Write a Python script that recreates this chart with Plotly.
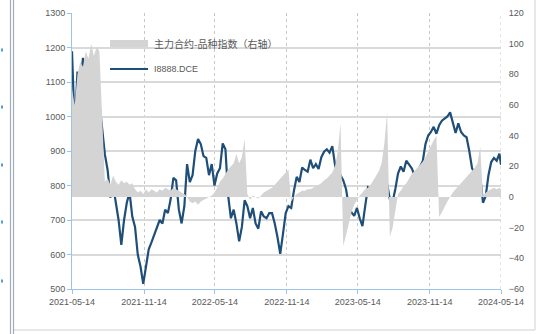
import datetime as dt
import plotly.graph_objects as go

# ---------------- data ----------------
start = dt.date(2021, 5, 14)
dates = [start + dt.timedelta(days=7 * i) for i in range(157)] + [dt.date(2024, 5, 14)]

price = [
    1189, 960, 1130, 1080, 1170, 1120, 1100, 1140, 1110, 1160,
    1040, 965, 890, 845, 765, 800, 745, 700, 628, 700,
    750, 780, 710, 680, 600, 565, 515, 560, 615, 635,
    655, 675, 700, 690, 730, 720, 760, 822, 815, 730,
    690, 740, 862, 810, 830, 900, 935, 920, 885, 880,
    830, 862, 800, 835, 850, 922, 905, 770, 705, 730,
    690, 638, 680, 757, 740, 705, 735, 690, 675, 725,
    710, 705, 720, 720, 690, 650, 602, 660, 720, 740,
    735, 785, 825, 810, 852, 845, 840, 875, 850, 862,
    848, 882, 898, 905, 895, 914, 860, 826, 830, 815,
    790, 740, 722, 712, 735, 705, 682, 740, 795, 790,
    800, 808, 800, 817, 815, 805, 760, 752, 790, 835,
    855, 840, 872, 862, 850, 830, 817, 855, 870, 920,
    945, 955, 970, 950, 975, 988, 995, 1000, 1012, 978,
    952, 980, 955, 945, 940, 900, 850, 835, 770, 825,
    750, 770, 830, 868, 880, 872, 892, 860,
]

spread = [
    70, 60, 80, 88, 85, 95, 90, 100, 92, 98,
    95, 50, 10, 12, 8, 14, 10, 8, 11, 9,
    10, 8, 9, 5, 3, 4, 2, 5, 3, 5,
    4, 3, 5, 4, 6, 5, 4, 6, 5, 4,
    3, 2, 0, -3, -4, -3, -5, -3, -2, -1,
    0, 1, 3, 6, 10, 12, 15, 18, 20, 22,
    28, 22, 26, 38, 2, -2, 1, 0, -1, 1,
    3, 4, 5, 6, 8, 10, 12, 14, 16, 18,
    -3, 0, 2, 3, 4, 4, 5, 5, 6, 7,
    8, 9, 11, 12, 14, 16, 20, 30, 48, -32,
    -25, -18, -10, -5, -2, 1, 3, 5, 6, 8,
    11, 14, 17, 22, 35, 55, -26, -20, -8, 2,
    4, 7, 9, 12, 15, 17, 19, 21, 23, 26,
    30, 33, 37, 40, -13, -10, -6, -3, 0, 3,
    5, 7, 9, 11, 13, 15, 17, 19, 22, 33,
    0, 3, 4, 5, 6, 5, 6, 5,
]

tick_dates = ["2021-05-14", "2021-11-14", "2022-05-14", "2022-11-14",
              "2023-05-14", "2023-11-14", "2024-05-14"]
left_ticks = [500, 600, 700, 800, 900, 1000, 1100, 1200, 1300]
right_ticks = [-60, -40, -20, 0, 20, 40, 60, 80, 100, 120]

spread_name = "主力合约-品种指数（右轴）"
price_name = "I8888.DCE"

# ---------------- figure ----------------
W, H = 541, 334
L, R, T, B = 72, 40, 13, 45
PW, PH = W - L - R, H - T - B

def px(x):
    return (x - L) / PW

def py(y):
    return (H - B - y) / PH

fig = go.Figure()
fig.add_trace(go.Scatter(
    x=dates, y=spread, name=spread_name, yaxis="y2",
    mode="lines", line=dict(width=0, color="#d4d4d4"),
    fill="tozeroy", fillcolor="#d4d4d4", showlegend=False,
))
fig.add_trace(go.Scatter(
    x=dates, y=price, name=price_name, yaxis="y",
    mode="lines", line=dict(width=2.2, color="#1f4e79"), showlegend=False,
))

tickfont = dict(family="Liberation Sans", size=9, color="#595959")
axis_blue = "#9dc3e6"

fig.update_layout(
    width=W, height=H,
    margin=dict(l=L, r=R, t=T, b=B, autoexpand=False),
    paper_bgcolor="white", plot_bgcolor="white",
    xaxis=dict(
        type="date", range=["2021-05-14", "2024-05-14"],
        tickvals=tick_dates, ticktext=tick_dates, automargin=False,
        showgrid=True, gridcolor="#c8c8c8", griddash="dot", gridwidth=1,
        showline=True, linecolor=axis_blue, linewidth=1,
        ticks="outside", ticklen=4, tickcolor=axis_blue,
        tickfont=tickfont, zeroline=False,
    ),
    yaxis=dict(
        range=[500, 1300], tickvals=left_ticks, automargin=False,
        showgrid=True, gridcolor="#d9d9d9", gridwidth=1.5,
        showline=True, linecolor=axis_blue, linewidth=1,
        ticks="outside", ticklen=4, tickcolor=axis_blue,
        tickfont=tickfont, zeroline=False,
    ),
    yaxis2=dict(
        range=[-60, 120], tickvals=right_ticks, overlaying="y", side="right",
        showgrid=False, zeroline=False, showline=False, automargin=False,
        ticks="outside", ticklen=5, tickcolor="rgba(0,0,0,0)",
        tickfont=tickfont,
    ),
)

# dotted gridline at the right end of the date axis
fig.add_shape(type="line", xref="x", yref="paper",
              x0=tick_dates[-1], x1=tick_dates[-1], y0=0, y1=1,
              line=dict(color="#c8c8c8", width=1, dash="dot"), layer="below")

# manual legend
fig.add_shape(type="rect", xref="paper", yref="paper",
              x0=px(110), x1=px(148), y0=py(47), y1=py(40),
              fillcolor="#d4d4d4", line=dict(width=0))
fig.add_shape(type="line", xref="paper", yref="paper",
              x0=px(110), x1=px(148), y0=py(69), y1=py(69),
              line=dict(color="#1f4e79", width=2))
legfont = dict(family="Noto Sans CJK SC", size=10, color="#595959")
fig.add_annotation(xref="paper", yref="paper", x=px(152), y=py(43.5),
                   text=spread_name, showarrow=False, xanchor="left",
                   yanchor="middle", font=legfont)
fig.add_annotation(xref="paper", yref="paper", x=px(152), y=py(69),
                   text=price_name, showarrow=False, xanchor="left",
                   yanchor="middle", font=dict(family="Liberation Sans", size=9, color="#595959"))

# outer window frame
frame = "#d0d0d0"
fig.add_shape(type="line", xref="paper", yref="paper",
              x0=px(535), x1=px(535), y0=py(0), y1=py(330),
              line=dict(color=frame, width=1))
fig.add_shape(type="line", xref="paper", yref="paper",
              x0=px(14), x1=px(535), y0=py(330), y1=py(330),
              line=dict(color=frame, width=1))
for xx in (10.5, 13.5):
    fig.add_shape(type="line", xref="paper", yref="paper",
                  x0=px(xx), x1=px(xx), y0=py(0), y1=py(334),
                  line=dict(color="#a3acbb", width=1.2))
for yy in (50, 107, 165, 222, 281):
    fig.add_shape(type="rect", xref="paper", yref="paper",
                  x0=px(1), x1=px(3), y0=py(yy + 1.5), y1=py(yy - 1.5),
                  fillcolor="#5b9bd5", line=dict(width=0))

fig.write_html(
    "out.html",
    config={"displayModeBar": False},
    post_script="document.body.style.margin='0';document.body.style.overflow='hidden';",
)
